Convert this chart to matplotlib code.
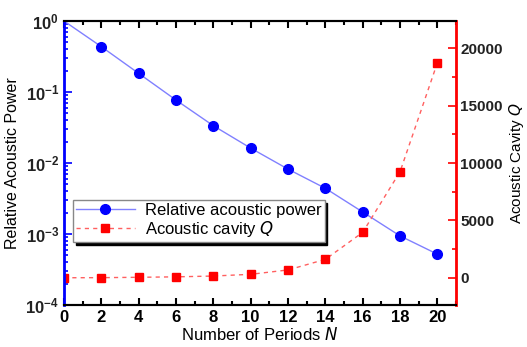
import matplotlib.pyplot as plt
from matplotlib.ticker import LogLocator, MultipleLocator, NullFormatter

periods = [0, 2, 4, 6, 8, 10, 12, 14, 16, 18, 20]
rel_power = [1.0, 0.435, 0.183, 0.077, 0.0335, 0.0162, 0.0082, 0.0044, 0.00204, 0.00094, 0.00052]
cavity_q = [20, 30, 60, 100, 170, 320, 700, 1620, 3970, 9240, 18720]

plt.rcParams['font.family'] = ['Liberation Sans', 'DejaVu Sans']

fig = plt.figure(figsize=(5.27, 3.47), dpi=100)
ax = fig.add_axes([0.1214, 0.121, 0.744, 0.8185])
ax2 = ax.twinx()

# blue: relative power (log axis)
ax.plot(periods, rel_power, '-', color='#8080ff', lw=1, zorder=2)
ax.plot(periods[1:], rel_power[1:], 'o', color='#0000ff', ms=7, ls='none', zorder=3)
l1b, = ax.plot([], [], '-o', color='#8080ff', mfc='#0000ff', mec='#0000ff', ms=7, lw=1)

# red: cavity Q (linear axis)
ax2.plot(periods, cavity_q, '--', color='#ff6060', lw=1, dashes=(3, 3))
ax2.plot(periods, cavity_q, 's', color='#ff0000', ms=6, ls='none')
l2b, = ax2.plot([], [], '--s', color='#ff6060', mfc='#ff0000', mec='#ff0000', ms=6, lw=1, dashes=(3, 3))

ax.set_yscale('log')
ax.set_ylim(1e-4, 1)
ax.set_xlim(0, 21)
ax2.set_ylim(-2350, 22350)

ax.xaxis.set_major_locator(MultipleLocator(2))
ax.xaxis.set_minor_locator(MultipleLocator(1))
ax.yaxis.set_major_locator(LogLocator(base=10, numticks=10))
ax.yaxis.set_minor_locator(LogLocator(base=10, subs=range(2, 10), numticks=10))
ax.yaxis.set_minor_formatter(NullFormatter())
ax2.yaxis.set_major_locator(MultipleLocator(5000))
ax2.yaxis.set_minor_locator(MultipleLocator(2500))

ax.tick_params(axis='x', which='both', direction='in', top=True, labelsize=12, width=1.5)
ax.tick_params(axis='x', which='major', length=5)
ax.tick_params(axis='x', which='minor', length=3)
ax.tick_params(axis='y', which='both', direction='in', colors='#0000ff', labelcolor='#222222', labelsize=12, width=1.2)
ax.tick_params(axis='y', which='major', length=6)
ax.tick_params(axis='y', which='minor', length=3)
ax2.tick_params(axis='y', which='both', direction='in', colors='#ff0000', labelcolor='#222222', labelsize=11, width=1.2, pad=3)
ax2.tick_params(axis='y', which='major', length=6)
ax2.tick_params(axis='y', which='minor', length=3)
for lbl in ax.get_xticklabels() + ax.get_yticklabels() + ax2.get_yticklabels():
    lbl.set_fontweight('bold')

for sp in ['top', 'bottom']:
    ax.spines[sp].set_linewidth(1.5)
ax2.spines['left'].set_color('#0000ff')
ax2.spines['left'].set_linewidth(2)
ax2.spines['right'].set_color('#ff0000')
ax2.spines['right'].set_linewidth(2)
ax2.spines['top'].set_linewidth(1.5)
ax2.spines['bottom'].set_linewidth(1.5)

ax.set_xlabel('Number of Periods $\\it{N}$', fontsize=12, labelpad=1)
ax.set_ylabel('Relative Acoustic Power', fontsize=11.5, labelpad=4)
ax2.set_ylabel('Acoustic Cavity $\\it{Q}$', fontsize=11, labelpad=3)

leg = ax2.legend([l1b, l2b], ['Relative acoustic power', 'Acoustic cavity $\\it{Q}$'],
                 loc='upper left', bbox_to_anchor=(0.023, 0.37), fontsize=12,
                 frameon=True, fancybox=False, shadow={'color': 'black', 'alpha': 1},
                 handlelength=3.5, borderpad=0.2, labelspacing=0.05, handletextpad=0.6,
                 borderaxespad=0)
leg.get_frame().set_edgecolor('#888888')
leg.get_frame().set_linewidth(1)

fig.savefig('out.png', dpi=100)
